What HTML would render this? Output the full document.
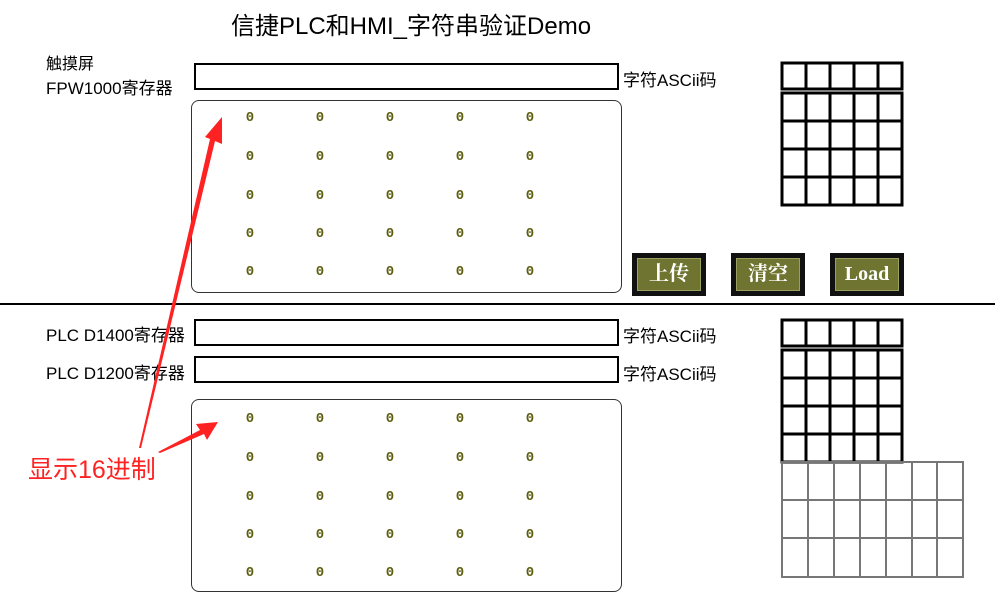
<!DOCTYPE html>
<html><head><meta charset="utf-8"><style>
body{margin:0;width:995px;height:597px;background:#fff;position:relative;overflow:hidden;font-family:"Liberation Sans","Noto Sans CJK SC",sans-serif}
.a{position:absolute}
.t{font-size:16px;color:#000;white-space:nowrap}
.inp{position:absolute;border:2px solid #000;box-sizing:border-box;background:#fff}
.pan{position:absolute;border:1.5px solid #333;border-radius:8px;box-sizing:border-box}
.z{position:absolute;font:bold 14px "Liberation Mono",monospace;color:#5e5e10;width:12px;text-align:center}
.btn{position:absolute;width:74px;height:43px;background:#111;box-sizing:border-box;padding:5px}
.btn div{width:100%;height:100%;background:#6f7530;border:1px solid #9aa060;box-sizing:border-box;color:#fff;font:bold 20px "Liberation Serif","Noto Serif CJK SC",serif;text-align:center;line-height:30px}
</style></head><body>
<div class="a t" style="left:231px;top:6px;font-size:24px">信捷PLC和HMI_字符串验证Demo</div>
<div class="a t" style="left:46px;top:50px">触摸屏</div>
<div class="a t" style="left:46px;top:74px;font-size:17px">FPW1000寄存器</div>
<div class="inp" style="left:194px;top:63px;width:425px;height:27px"></div>
<div class="a t" style="left:623px;top:66px;font-size:17px">字符ASCii码</div>
<div class="pan" style="left:191px;top:100px;width:431px;height:193px"></div>
<div class="btn" style="left:632px;top:253px"><div>上传</div></div>
<div class="btn" style="left:731px;top:253px"><div>清空</div></div>
<div class="btn" style="left:830px;top:253px"><div>Load</div></div>
<div class="a" style="left:0;top:303px;width:995px;height:2px;background:#000"></div>
<div class="a t" style="left:46px;top:321px;font-size:17px">PLC D1400寄存器</div>
<div class="inp" style="left:194px;top:319px;width:425px;height:27px"></div>
<div class="a t" style="left:623px;top:322px;font-size:17px">字符ASCii码</div>
<div class="a t" style="left:46px;top:359px;font-size:17px">PLC D1200寄存器</div>
<div class="inp" style="left:194px;top:356px;width:425px;height:27px"></div>
<div class="a t" style="left:623px;top:360px;font-size:17px">字符ASCii码</div>
<div class="pan" style="left:191px;top:399px;width:431px;height:193px"></div>
<div id="zs"></div>
<svg class="a" style="left:0;top:0" width="995" height="597">
<g fill="none" stroke="#000" stroke-width="3">
<rect x="782" y="63" width="120" height="26"/>
<rect x="782" y="93" width="120" height="112"/>
<path d="M806 63V89M830 63V89M854 63V89M878 63V89"/>
<path d="M806 93V205M830 93V205M854 93V205M878 93V205M782 121H902M782 149H902M782 177H902"/>
<rect x="782" y="320" width="120" height="26"/>
<rect x="782" y="350" width="120" height="112"/>
<path d="M806 320V346M830 320V346M854 320V346M878 320V346"/>
<path d="M806 350V462M830 350V462M854 350V462M878 350V462M782 378H902M782 406H902M782 434H902"/>
</g>
<g fill="none" stroke="#777" stroke-width="2">
<rect x="782" y="462" width="181" height="115"/>
<path d="M808 462V577M834 462V577M860 462V577M886 462V577M912 462V577M937 462V577M782 500H963M782 538H963"/>
</g>
<polygon points="139,448 141,448 215,141 222,144 222,117 205,137 210,139" fill="#f22"/>
<polygon points="158,452 160,453 204,434 207,440 218,422 196,424 200,430" fill="#f22"/>
<text x="28" y="478" font-size="25" fill="#f22" font-family="Liberation Sans,Noto Sans CJK SC,sans-serif">显示16进制</text>
</svg>
<script>
var h='',xs=[250,320,390,460,530],ys=[118,157,196,234,272,419,458,497,535,573];
ys.forEach(function(y){xs.forEach(function(x){h+='<div class="z" style="left:'+(x-6)+'px;top:'+(y-8)+'px">0</div>'})});
document.getElementById('zs').innerHTML=h;
</script>
</body></html>
